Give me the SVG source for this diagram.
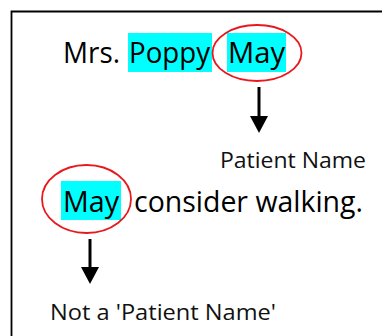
<svg xmlns="http://www.w3.org/2000/svg" width="382" height="336" viewBox="0 0 382 336">
<style>
.main{font-family:"Open Sans","Liberation Sans",sans-serif;font-size:28.5px;fill:#000}
.lbl{font-family:"Open Sans","Liberation Sans",sans-serif;font-size:22px;fill:#111}
.hl{fill:#00ffff}
.ring{fill:none;stroke:#e8191c;stroke-width:1.8}
.shaft{stroke:#000;stroke-width:3}
.head{fill:#000}
</style>
<rect width="382" height="336" fill="#fff"/>
<path d="M11.5 336 V11.5 H382" fill="none" stroke="#000" stroke-width="1.8"/>
<g id="sentence1">
<rect class="hl" x="128" y="33" width="84" height="39"/>
<rect class="hl" x="227" y="33" width="59" height="39"/>
<text class="main" x="63" y="63" textLength="57" lengthAdjust="spacingAndGlyphs">Mrs.</text>
<text class="main" x="129" y="63" textLength="81" lengthAdjust="spacingAndGlyphs">Poppy</text>
<text class="main" x="228" y="63" textLength="57" lengthAdjust="spacingAndGlyphs">May</text>
<ellipse class="ring" cx="257" cy="53" rx="44.5" ry="28"/>
</g>
<g id="label1">
<text class="lbl" x="220" y="168" textLength="146" lengthAdjust="spacingAndGlyphs">Patient Name</text>
</g>
<g id="sentence2">
<rect class="hl" x="61" y="181" width="60" height="39"/>
<text class="main" x="63" y="212" textLength="56" lengthAdjust="spacingAndGlyphs">May</text>
<text class="main" x="134" y="212" textLength="229" lengthAdjust="spacingAndGlyphs">consider walking.</text>
<ellipse class="ring" cx="86.5" cy="199" rx="44.5" ry="34"/>
</g>
<g id="label2">
<text class="lbl" x="50" y="320" textLength="226" lengthAdjust="spacingAndGlyphs">Not a 'Patient Name'</text>
</g>
<g id="connectors">
<line class="shaft" x1="259" y1="87" x2="259" y2="118"/>
<polygon class="head" points="250,116 268,116 259,133"/>
<line class="shaft" x1="90" y1="239" x2="90" y2="269"/>
<polygon class="head" points="81,267 99,267 90,284"/>
</g>
</svg>
